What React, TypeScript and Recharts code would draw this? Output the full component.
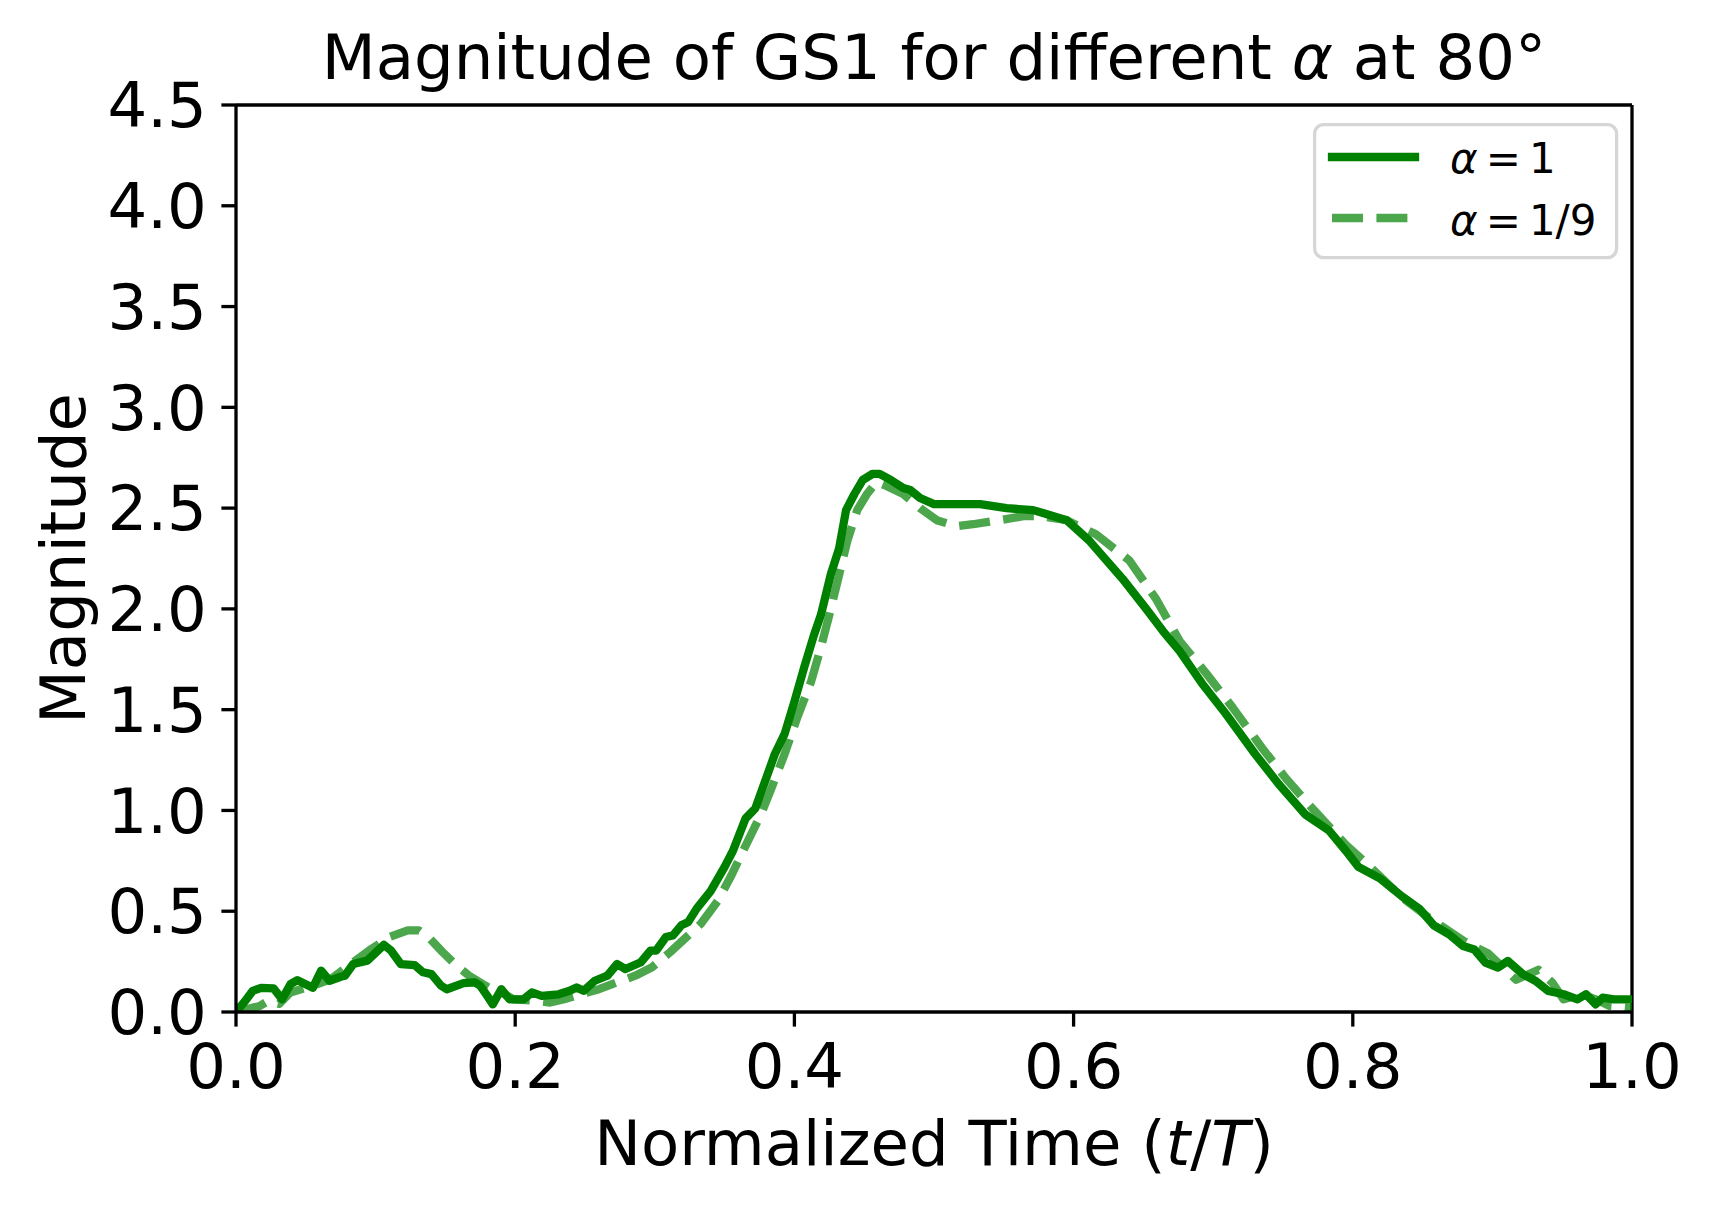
import { Line, LineChart, ReferenceLine, XAxis, YAxis } from "recharts"

// alpha = 1 (solid)
const alpha1Time = [
  0.0, 0.006, 0.012, 0.018, 0.027, 0.033, 0.039, 0.044, 0.055, 0.061, 0.067, 0.075, 0.078, 0.084,
  0.094, 0.106, 0.111, 0.118, 0.128, 0.134, 0.14, 0.147, 0.151, 0.163, 0.171, 0.175, 0.18, 0.184,
  0.19, 0.196, 0.206, 0.212, 0.219, 0.231, 0.239, 0.244, 0.249, 0.257, 0.266, 0.273, 0.279, 0.29,
  0.297, 0.301, 0.308, 0.313, 0.319, 0.324, 0.33, 0.34, 0.35, 0.356, 0.365, 0.372, 0.386, 0.393,
  0.4, 0.407, 0.414, 0.419, 0.426, 0.432, 0.437, 0.443, 0.449, 0.456, 0.461, 0.469, 0.478, 0.483,
  0.49, 0.5, 0.524, 0.533, 0.552, 0.571, 0.581, 0.595, 0.611, 0.635, 0.652, 0.664, 0.676, 0.692,
  0.709, 0.73, 0.747, 0.766, 0.783, 0.795, 0.804, 0.82, 0.835, 0.848, 0.858, 0.869, 0.879, 0.887,
  0.895, 0.904, 0.911, 0.922, 0.931, 0.94, 0.951, 0.961, 0.967, 0.974, 0.979, 0.987, 1.0,
]
const alpha1Mag = [
  0.0, 0.05, 0.105, 0.12, 0.117, 0.063, 0.138, 0.158, 0.12, 0.205, 0.155, 0.175, 0.18, 0.238,
  0.255, 0.333, 0.305, 0.238, 0.233, 0.197, 0.188, 0.13, 0.113, 0.143, 0.147, 0.13, 0.08, 0.038,
  0.113, 0.063, 0.063, 0.097, 0.08, 0.088, 0.105, 0.122, 0.105, 0.155, 0.18, 0.238, 0.213, 0.247,
  0.305, 0.305, 0.372, 0.38, 0.43, 0.447, 0.513, 0.6, 0.72, 0.8, 0.96, 1.01, 1.28, 1.38,
  1.54, 1.71, 1.87, 1.97, 2.17, 2.3, 2.49, 2.57, 2.64, 2.67, 2.67, 2.64, 2.6, 2.59,
  2.55, 2.52, 2.52, 2.52, 2.5, 2.49, 2.47, 2.44, 2.34, 2.15, 2.0, 1.89, 1.79, 1.63,
  1.48, 1.28, 1.13, 0.98, 0.9, 0.8, 0.72, 0.66, 0.575, 0.51, 0.43, 0.385, 0.327, 0.31,
  0.245, 0.22, 0.253, 0.187, 0.154, 0.104, 0.088, 0.063, 0.088, 0.038, 0.071, 0.063, 0.063,
]

// alpha = 1/9 (dashed)
const alpha9Time = [
  0.0, 0.017, 0.023, 0.031, 0.039, 0.055, 0.068, 0.084, 0.097, 0.11, 0.123, 0.131, 0.139, 0.148,
  0.158, 0.167, 0.177, 0.183, 0.19, 0.199, 0.215, 0.225, 0.235, 0.247, 0.26, 0.273, 0.286, 0.298,
  0.311, 0.324, 0.333, 0.345, 0.355, 0.364, 0.376, 0.383, 0.393, 0.402, 0.412, 0.419, 0.425, 0.431,
  0.438, 0.445, 0.452, 0.459, 0.466, 0.478, 0.49, 0.502, 0.516, 0.528, 0.547, 0.564, 0.576, 0.595,
  0.616, 0.64, 0.659, 0.676, 0.695, 0.714, 0.735, 0.752, 0.771, 0.795, 0.814, 0.835, 0.854, 0.88,
  0.897, 0.917, 0.933, 0.943, 0.951, 0.964, 0.974, 0.984, 1.0,
]
const alpha9Mag = [
  0.0, 0.03, 0.055, 0.04, 0.097, 0.13, 0.163, 0.247, 0.313, 0.372, 0.405, 0.405, 0.363, 0.297,
  0.23, 0.18, 0.138, 0.113, 0.097, 0.063, 0.055, 0.047, 0.063, 0.088, 0.113, 0.147, 0.18, 0.222,
  0.297, 0.38, 0.438, 0.55, 0.68, 0.81, 0.98, 1.1, 1.28, 1.46, 1.64, 1.81, 1.97, 2.14,
  2.34, 2.49, 2.57, 2.63, 2.61, 2.57, 2.5, 2.44, 2.41, 2.42, 2.44, 2.46, 2.46, 2.44,
  2.37, 2.24, 2.05, 1.84, 1.68, 1.51, 1.31, 1.16, 1.01, 0.83, 0.71, 0.57, 0.47, 0.35,
  0.29, 0.16, 0.21, 0.145, 0.063, 0.088, 0.063, 0.03, 0.02,
]

const xTicks = [0, 0.2, 0.4, 0.6, 0.8, 1.0]
const yTicks = [0, 0.5, 1.0, 1.5, 2.0, 2.5, 3.0, 3.5, 4.0, 4.5]
const seriesNames = ["1", "1/9"]

const FONT = "DejaVu Sans"
const GREEN = "#008000"
const LW = 8.3
const DASH = "31 13.4"

const alpha1Data = alpha1Time.map((t, i) => ({ t, v: alpha1Mag[i] }))
const alpha9Data = alpha9Time.map((t, i) => ({ t, v: alpha9Mag[i] }))

// matplotlib-style legend box, drawn in the overlay svg
const LegendBox = ({ x, y }: { x: number; y: number }) => (
  <g transform={`translate(${x} ${y})`}>
    <rect x={1.6} y={1.6} width={302} height={133} rx={9} fill="#fff" fillOpacity={0.8} stroke="#d6d6d6" strokeWidth={3.3} />
    <line x1={19} x2={102} y1={34} y2={34} stroke={GREEN} strokeWidth={LW} strokeLinecap="square" />
    <line x1={19} x2={102} y1={95} y2={95} stroke={GREEN} strokeOpacity={0.7} strokeWidth={LW} strokeDasharray={DASH} />
    {seriesNames.map((name, i) => (
      <text key={name} x={137} y={50 + i * 62} fontSize={42} fill="#000">
        <tspan fontStyle="italic">α</tspan>
        <tspan dx={8}>=</tspan>
        <tspan dx={8}>{name}</tspan>
      </text>
    ))}
  </g>
)

export default function App() {
  const tickStyle = { fill: "#000", fontSize: 62.5, fontFamily: FONT }
  const lineStyle = { stroke: "#000", strokeWidth: 3.3 }
  return (
    <div style={{ position: "absolute", left: 0, top: 0, width: 1710, height: 1205, background: "#fff" }}>
      <LineChart width={1710} height={1205} margin={{ top: 105, right: 78, bottom: 93, left: 0 }}>
        <XAxis
          dataKey="t"
          type="number"
          domain={[0, 1]}
          ticks={xTicks}
          tickFormatter={(v: number) => v.toFixed(1)}
          tick={tickStyle}
          tickLine={lineStyle}
          axisLine={lineStyle}
          tickSize={14.6}
          tickMargin={17}
          height={100}
          allowDataOverflow
        />
        <YAxis
          type="number"
          domain={[0, 4.5]}
          ticks={yTicks}
          tickFormatter={(v: number) => v.toFixed(1)}
          tick={tickStyle}
          tickLine={lineStyle}
          axisLine={lineStyle}
          tickSize={14.6}
          tickMargin={14.6}
          width={236}
          allowDataOverflow
        />
        <ReferenceLine y={4.5} stroke="#000" strokeWidth={3.3} />
        <ReferenceLine x={1} stroke="#000" strokeWidth={3.3} />
        <Line
          data={alpha1Data}
          dataKey="v"
          name="α = 1"
          type="linear"
          stroke={GREEN}
          strokeWidth={LW}
          strokeLinejoin="round"
          dot={false}
          isAnimationActive={false}
        />
        <Line
          data={alpha9Data}
          dataKey="v"
          name="α = 1/9"
          type="linear"
          stroke={GREEN}
          strokeOpacity={0.7}
          strokeWidth={LW}
          strokeDasharray={DASH}
          strokeLinejoin="round"
          dot={false}
          isAnimationActive={false}
        />
      </LineChart>
      <svg
        width={1710}
        height={1205}
        style={{ position: "absolute", left: 0, top: 0, pointerEvents: "none" }}
        fontFamily={FONT}
        fontSize={62.5}
      >
        <text x={934} y={79} textAnchor="middle" fill="#000">
          Magnitude of GS1 for different <tspan fontStyle="italic">α</tspan> at 80°
        </text>
        <text x={934} y={1165} textAnchor="middle" fill="#000">
          Normalized Time (<tspan fontStyle="italic">t</tspan>/<tspan fontStyle="italic">T</tspan>)
        </text>
        <text x={85} y={558.5} textAnchor="middle" fill="#000" transform="rotate(-90 85 558.5)">
          Magnitude
        </text>
        <LegendBox x={1313} y={123} />
      </svg>
    </div>
  )
}
